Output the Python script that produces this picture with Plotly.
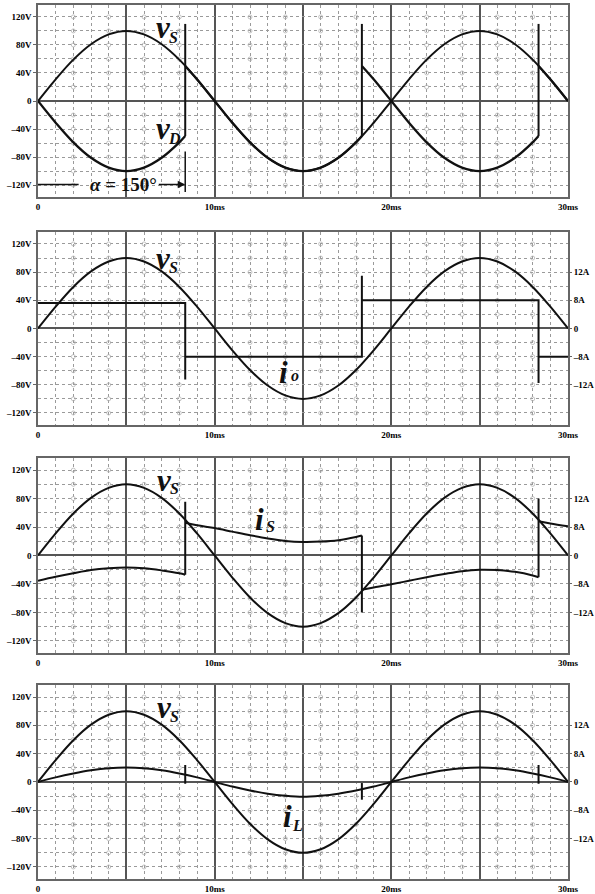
import plotly.graph_objects as go

# time samples (ms)
t = [0, 1, 2, 3, 4, 5, 6, 7, 8, 9, 10, 11, 12, 13, 14, 15, 16, 17, 18, 19, 20,
     21, 22, 23, 24, 25, 26, 27, 28, 29, 30]
# source voltage vs (V)
vs = [0, 31, 59, 81, 95, 100, 95, 81, 59, 31, 0, -31, -59, -81, -95, -100, -95, -81, -59, -31, 0,
      31, 59, 81, 95, 100, 95, 81, 59, 31, 0]

# diode voltage vD (V), None = switching break
vd_t = [0, 1, 2, 3, 4, 5, 6, 7, 8, 8.333, None,
        8.333, 9, 10, 11, 12, 13, 14, 15, 16, 17, 18, 18.333, None,
        18.333, 19, 20, 21, 22, 23, 24, 25, 26, 27, 28, 28.333, None,
        28.333, 29, 30]
vd_v = [0, -31, -59, -81, -95, -100, -95, -81, -59, -50, None,
        50, 31, 0, -31, -59, -81, -95, -100, -95, -81, -59, -50, None,
        50, 31, 0, -31, -59, -81, -95, -100, -95, -81, -59, -50, None,
        50, 31, 0]
vd_spike_t = [8.333, 8.333, None, 18.333, 18.333, None, 28.333, 28.333]
vd_spike_v = [-50, 110, None, -50, 110, None, -50, 110]

# output current io (A)
io_t = [0, 8.333, 8.333, 8.333, 18.333, 18.333, 18.333, 28.333, 28.333, 28.333, 30]
io_a = [7.2, 7.2, -14.5, -8, -8, 15, 8, 8, -15.5, -8, -8]

# source current is (A)
is_t = [0, 1, 2, 3, 4, 5, 6, 7, 8, 8.333, None,
        8.333, 9, 10, 11, 12, 13, 14, 15, 16, 17, 18, 18.333, None,
        18.333, 19, 20, 21, 22, 23, 24, 25, 26, 27, 28, 28.333, None,
        28.333, 29, 30]
is_a = [-7.1, -6.0, -5.0, -4.1, -3.6, -3.4, -3.6, -4.2, -5.0, -5.4, None,
        9.2, 8.5, 7.7, 6.7, 5.7, 4.8, 4.1, 3.8, 3.9, 4.3, 5.2, 5.6, None,
        -9.6, -9.0, -8.1, -7.1, -6.1, -5.2, -4.4, -4.0, -4.1, -4.6, -5.6, -6.1, None,
        9.6, 9.0, 8.2]
is_spike_t = [8.333, 8.333, None, 18.333, 18.333, None, 28.333, 28.333]
is_spike_a = [-5.4, 15.1, None, 5.6, -16, None, -6.1, 16]

# inductor current iL (A)
il_a = [0, 1.3, 2.4, 3.3, 3.9, 4.1, 3.9, 3.3, 2.4, 1.3, 0, -1.3, -2.4, -3.3, -3.9, -4.2, -3.9, -3.3, -2.4, -1.3, 0,
        1.3, 2.4, 3.3, 3.9, 4.1, 3.9, 3.3, 2.4, 1.3, 0]
il_mark_t = [8.333, 8.333, None, 18.333, 18.333, None, 28.333, 28.333]
il_mark_a = [4.8, -0.5, None, -0.3, -5.0, None, 4.8, -0.5]

# tick labels
x_ticks = [0, 5, 10, 15, 20, 25, 30]
x_labels = ['0', '', '10ms', '', '20ms', '', '30ms']
v_ticks = [-120, -80, -40, 0, 40, 80, 120]
v_labels = ['–120V', '–80V', '–40V', '0', '40V', '80V', '120V']
a_ticks = [-16, -8, 0, 8, 16]
a_labels = ['–12A', '–8A', '0', '8A', '12A']

SERIF = 'Liberation Serif'
INK = '#111111'
tickfont = dict(family=SERIF, size=9, color='black', weight='bold')

domains = [[0.7803, 1.0], [0.5195, 0.7403], [0.2586, 0.4817], [0.0, 0.2220]]

fig = go.Figure()

# small grid circles
cx = [2, 4, 6, 8, 12, 14, 16, 18, 22, 24, 26, 28]
cy = [-120, -100, -80, -60, -40, -20, 20, 40, 60, 80, 100, 120]
for k in range(4):
    xs, ys = [], []
    for a in cx:
        for b in cy:
            xs.append(a)
            ys.append(b)
    sfx = '' if k == 0 else str(k + 1)
    fig.add_trace(go.Scatter(x=xs, y=ys, mode='markers', xaxis='x' + sfx, yaxis='y' + sfx,
                             marker=dict(symbol='circle-open', size=4, color='#b4b4b4', line=dict(width=0.8)),
                             hoverinfo='skip', showlegend=False))

line = dict(color=INK, width=2)
for k in range(4):
    sfx = '' if k == 0 else str(k + 1)
    fig.add_trace(go.Scatter(x=t, y=vs, mode='lines', line=dict(color=INK, width=2, shape='spline'),
                             xaxis='x' + sfx, yaxis='y' + sfx, showlegend=False))

# panel 1: vD
fig.add_trace(go.Scatter(x=vd_t, y=vd_v, mode='lines', line=dict(color=INK, width=2.3, shape='spline'),
                         xaxis='x', yaxis='y', showlegend=False))
fig.add_trace(go.Scatter(x=vd_spike_t, y=vd_spike_v, mode='lines', line=line,
                         xaxis='x', yaxis='y', showlegend=False))
# panel 2: io
fig.add_trace(go.Scatter(x=io_t, y=io_a, mode='lines', line=line,
                         xaxis='x2', yaxis='y5', showlegend=False))
# panel 3: is
fig.add_trace(go.Scatter(x=is_t, y=is_a, mode='lines', line=dict(color=INK, width=2, shape='spline'),
                         xaxis='x3', yaxis='y6', showlegend=False))
fig.add_trace(go.Scatter(x=is_spike_t, y=is_spike_a, mode='lines', line=line,
                         xaxis='x3', yaxis='y6', showlegend=False))
# panel 4: iL
fig.add_trace(go.Scatter(x=t, y=il_a, mode='lines', line=dict(color=INK, width=2, shape='spline'),
                         xaxis='x4', yaxis='y7', showlegend=False))
fig.add_trace(go.Scatter(x=il_mark_t, y=il_mark_a, mode='lines', line=line,
                         xaxis='x4', yaxis='y7', showlegend=False))

layout = dict(width=595, height=894, margin=dict(l=38, r=27, t=5, b=15),
              paper_bgcolor='white', plot_bgcolor='white', showlegend=False)
for k in range(4):
    sfx = '' if k == 0 else str(k + 1)
    layout['xaxis' + sfx] = dict(
        domain=[0, 1], range=[0, 30], anchor='y' + sfx, automargin=False,
        tickmode='array', tickvals=x_ticks, ticktext=x_labels, ticks='',
        tickfont=tickfont, ticklabelstandoff=0, showgrid=True, gridcolor='#555555', gridwidth=1.5,
        minor=dict(tick0=0, dtick=1, showgrid=True, gridcolor='#9a9a9a', griddash='dot', gridwidth=1),
        showline=True, mirror=True, linecolor='#666666', linewidth=1.5, zeroline=False)
    layout['yaxis' + sfx] = dict(
        domain=domains[k], range=[-137, 137], anchor='x' + sfx, automargin=False,
        tickmode='array', tickvals=v_ticks, ticktext=v_labels, ticks='outside', ticklen=3,
        tickcolor='#666666', tickfont=tickfont,
        showgrid=True, gridcolor='#9a9a9a', griddash='dot', gridwidth=1,
        minor=dict(tick0=0, dtick=20, showgrid=True, gridcolor='#9a9a9a', griddash='dot', gridwidth=1),
        zeroline=True, zerolinecolor='#555555', zerolinewidth=1.5,
        showline=True, mirror=True, linecolor='#666666', linewidth=1.5)
for k in range(1, 4):
    layout['yaxis' + str(k + 4)] = dict(
        overlaying='y' + str(k + 1), anchor='x' + str(k + 1), side='right', automargin=False,
        range=[-27.4, 27.4], tickmode='array', tickvals=a_ticks, ticktext=a_labels,
        ticks='outside', ticklen=3, tickcolor='#666666', tickfont=tickfont,
        showgrid=False, zeroline=False, showline=False)
fig.update_layout(**layout)

big = dict(family=SERIF, size=31, color=INK, weight='bold', style='italic')
small = dict(family=SERIF, size=16, color=INK, weight='bold', style='italic')


def label(xr, yr, main, sub, x, y, xs, ys):
    fig.add_annotation(x=x, y=y, xref=xr, yref=yr, text=main, showarrow=False, font=big)
    fig.add_annotation(x=xs, y=ys, xref=xr, yref=yr, text=sub, showarrow=False, font=small)


label('x', 'y', 'v', 'S', 7.1, 105, 7.65, 91)
label('x', 'y', 'v', 'D', 7.1, -39, 7.75, -54)
label('x2', 'y2', 'v', 'S', 7.1, 99, 7.65, 87)
label('x2', 'y2', 'i', 'o', 13.9, -63, 14.55, -67)
label('x3', 'y3', 'v', 'S', 7.15, 106, 7.75, 94)
label('x3', 'y3', 'i', 'S', 12.55, 50, 13.15, 41)
label('x4', 'y4', 'v', 'S', 7.15, 105, 7.75, 93)
label('x4', 'y4', 'i', 'L', 14.15, -49, 14.7, -61)

# firing angle marker
fig.add_annotation(x=4.85, y=-119, xref='x', yref='y', showarrow=False,
                   text='<i>α</i> = 150°', font=dict(family=SERIF, size=19, color=INK, weight='bold'))
fig.add_annotation(x=8.333, y=-119, ax=6.75, ay=-119, xref='x', yref='y', axref='x', ayref='y',
                   text='', showarrow=True, arrowhead=2, arrowsize=1, arrowwidth=1.5, arrowcolor=INK)
fig.add_shape(type='line', xref='x', yref='y', x0=0, x1=2.3, y0=-119, y1=-119,
              line=dict(color=INK, width=1.5))
fig.add_shape(type='line', xref='x', yref='y', x0=8.333, x1=8.333, y0=-72, y1=-130,
              line=dict(color=INK, width=1.5))

fig.write_html("out.html", config={'displayModeBar': False},
               post_script="document.body.style.margin='0';")
